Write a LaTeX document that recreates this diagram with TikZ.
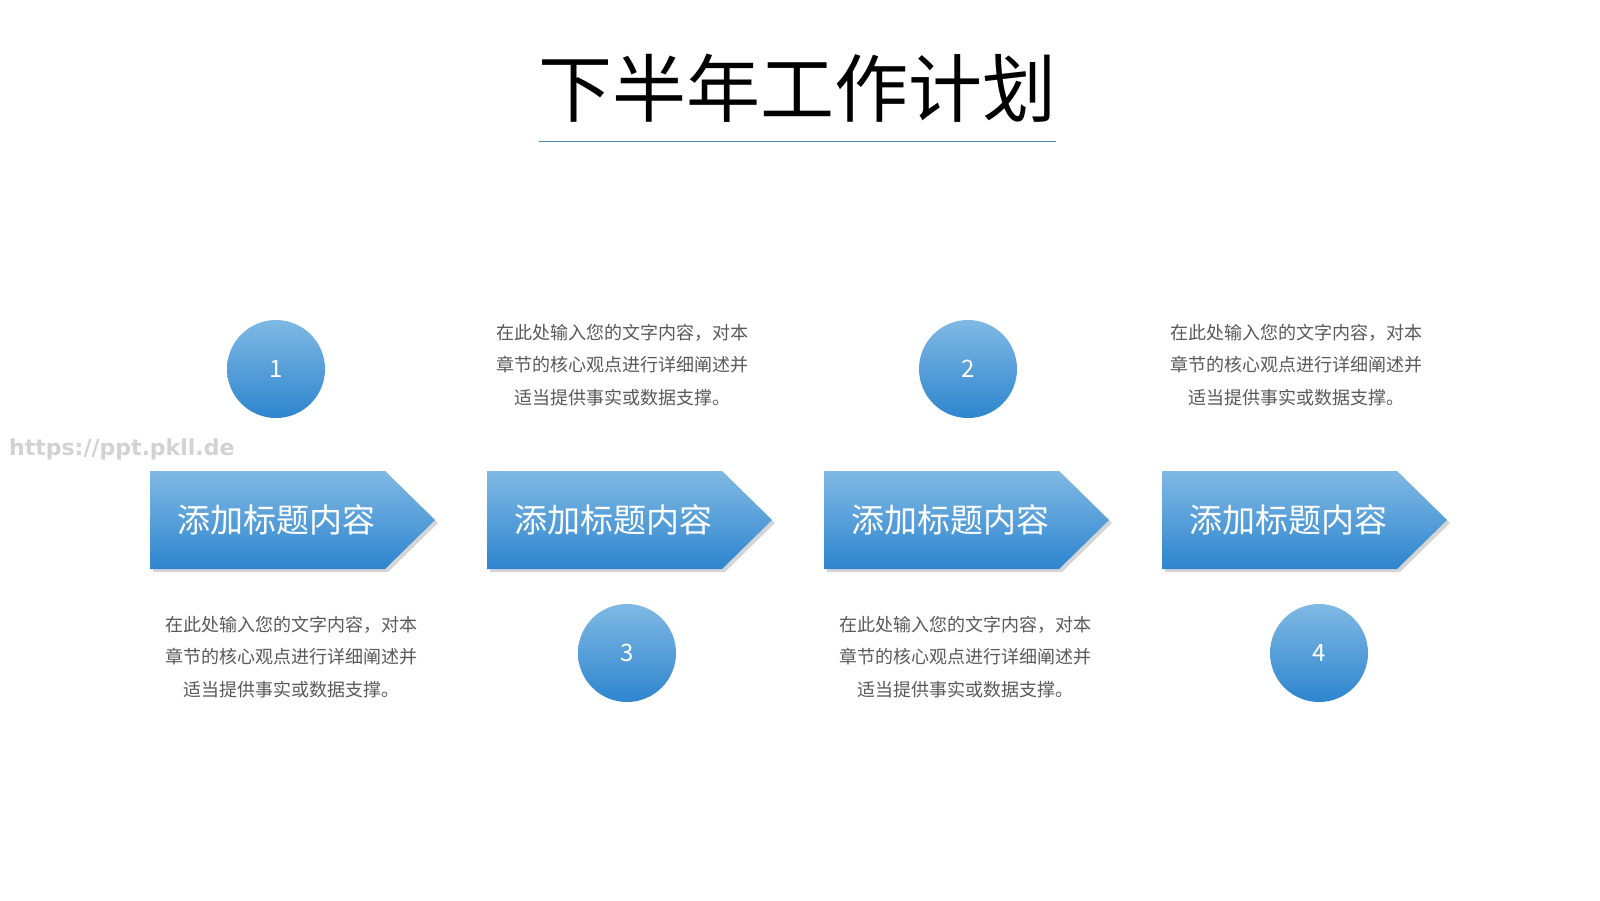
\documentclass[tikz,border=0pt]{standalone}
\usepackage{fontspec}
\setmainfont{Noto Sans CJK SC}
\newfontfamily\wmfont{DejaVu Sans}
\usetikzlibrary{shadows}
\definecolor{blueTop}{HTML}{80B9E4}
\definecolor{blueBot}{HTML}{2E85CF}
\definecolor{bodyGray}{HTML}{595959}
\definecolor{lineBlue}{HTML}{4A8DB8}
\definecolor{wmGray}{HTML}{D2D2D2}
\tikzset{
  arrowbox/.style={top color=blueTop, bottom color=blueBot, draw=none,
    drop shadow={shadow xshift=3pt, shadow yshift=-3pt, opacity=0.3, fill=black!55}},
  arrowtext/.style={text=white, font=\fontsize{33}{36}\selectfont, inner sep=0pt},
  numcircle/.style={circle, minimum size=98pt, inner sep=0pt, draw=none,
    top color=blueTop, bottom color=blueBot, text=white, font=\fontsize{24}{26}\selectfont},
  bodytext/.style={text=bodyGray, align=center, inner sep=0pt,
    font=\fontsize{18}{32.5}\selectfont},
}
\begin{document}
\begin{tikzpicture}[x=1pt,y=-1pt]
\useasboundingbox (0,0) rectangle (1600,900);
% title
\node[font=\fontsize{74}{80}\selectfont, inner sep=0pt] (title) at (797,88) {下半年工作计划};
\coordinate (ulL) at (539,141);
\coordinate (ulR) at (1056,141);
\draw[lineBlue, line width=1pt] (ulL) -- (ulR);
% watermark
\node[text=wmGray, font=\wmfont\bfseries\fontsize{22}{24}\selectfont, anchor=west, inner sep=0pt] (wm) at (9,449) {https://ppt.pkll.de};
% arrows
\foreach \x/\i in {150/1,487/2,824/3,1162/4}{
  \path[arrowbox] (\x,471) -- ++(235,0) -- ++(50,49) -- ++(-50,49) -- ++(-235,0) -- cycle;
  \node[arrowtext] (t\i) at (\x+126,520) {添加标题内容};
}
% circles
\node[numcircle] (c1) at (276,369) {1};
\node[numcircle] (c2) at (968,369) {2};
\node[numcircle] (c3) at (627,653) {3};
\node[numcircle] (c4) at (1319,653) {4};
% text blocks
\node[bodytext] (d1) at (291,657) {在此处输入您的文字内容，对本\\章节的核心观点进行详细阐述并\\适当提供事实或数据支撑。};
\node[bodytext] (d2) at (622,365) {在此处输入您的文字内容，对本\\章节的核心观点进行详细阐述并\\适当提供事实或数据支撑。};
\node[bodytext] (d3) at (965,657) {在此处输入您的文字内容，对本\\章节的核心观点进行详细阐述并\\适当提供事实或数据支撑。};
\node[bodytext] (d4) at (1296,365) {在此处输入您的文字内容，对本\\章节的核心观点进行详细阐述并\\适当提供事实或数据支撑。};
\end{tikzpicture}
\end{document}
